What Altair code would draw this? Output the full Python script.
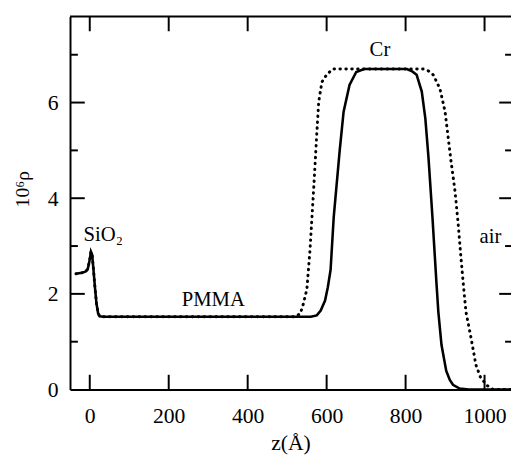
import altair as alt
import pandas as pd

# Solid curve
z_solid = [-35, -20, -10, -5, 0, 3, 6, 9, 13, 17, 21, 25, 35, 200, 400, 560, 575, 585, 596, 603, 610, 618, 633, 643, 658, 675, 695,
           760, 803, 815, 828, 841, 850, 858, 868, 878, 883, 891, 903, 912, 920, 937, 960, 1067]
rho_solid = [2.42, 2.44, 2.47, 2.52, 2.72, 2.88, 2.82, 2.55, 2.15, 1.8, 1.6, 1.53, 1.52, 1.52, 1.52, 1.52, 1.55, 1.65, 1.86, 2.14, 2.5, 3.61, 4.99, 5.81, 6.37, 6.64, 6.70,
             6.70, 6.70, 6.66, 6.58, 6.23, 5.67, 4.85, 3.61, 2.25, 1.62, 0.93, 0.39, 0.2, 0.1, 0.02, 0.0, 0.0]

# Dotted curve
z_dotted = [-35, -20, -10, -5, 0, 3, 6, 9, 13, 17, 21, 25, 35, 200, 400, 515, 533, 541, 550, 558, 568, 575, 580, 588, 600, 615,
            760, 845, 858, 870, 887, 900, 908, 915, 925, 933, 940, 948, 953, 966, 978, 990, 1007, 1022, 1067]
rho_dotted = [2.42, 2.44, 2.47, 2.52, 2.72, 2.88, 2.82, 2.55, 2.15, 1.8, 1.6, 1.53, 1.52, 1.52, 1.52, 1.52, 1.58, 1.79, 2.1, 2.93, 4.31, 5.34, 6.02, 6.43, 6.58, 6.70,
              6.70, 6.70, 6.66, 6.58, 6.29, 5.81, 5.26, 4.78, 4.16, 3.48, 2.78, 2.04, 1.62, 1.07, 0.52, 0.25, 0.08, 0.0, 0.0]

# Annotations
label_text = ["SiO\u2082", "PMMA", "Cr", "air"]
label_z = [34, 313, 735, 1015]
label_rho = [3.11, 1.75, 6.97, 3.07]

x_ticks = [0, 200, 400, 600, 800, 1000]
y_major = [2, 4, 6]
y_minor = [1, 3, 5, 7]

X_MIN, X_MAX = -50, 1067
Y_MIN, Y_MAX = 0, 7.8
W, H = 448, 379
FONT = "Liberation Serif"

xs = alt.Scale(domain=[X_MIN, X_MAX], nice=False, zero=False)
ys = alt.Scale(domain=[Y_MIN, Y_MAX], nice=False, zero=False)

# pixel -> data unit conversion for the inward tick lengths
px_x = (X_MAX - X_MIN) / W
px_y = (Y_MAX - Y_MIN) / H

solid_df = pd.DataFrame({"z": z_solid, "rho": rho_solid})
dotted_df = pd.DataFrame({"z": z_dotted, "rho": rho_dotted})
labels_df = pd.DataFrame({"text": label_text, "z": label_z, "rho": label_rho})

# frame top edge + inward tick segments, built from the tick lists
seg_rows = []
def seg(key, p0, p1):
    seg_rows.append({"id": key, "o": 0, "z": p0[0], "rho": p0[1]})
    seg_rows.append({"id": key, "o": 1, "z": p1[0], "rho": p1[1]})

seg("top", (X_MIN, Y_MAX), (X_MAX, Y_MAX))
for v in x_ticks:
    seg(f"b{v}", (v, Y_MIN), (v, Y_MIN + 15 * px_y))
    seg(f"t{v}", (v, Y_MAX), (v, Y_MAX - 15 * px_y))
for v in y_major:
    seg(f"l{v}", (X_MIN, v), (X_MIN + 15 * px_x, v))
    seg(f"r{v}", (X_MAX - 12 * px_x, v), (X_MAX, v))
for v in y_minor:
    seg(f"l{v}", (X_MIN, v), (X_MIN + 8 * px_x, v))
    seg(f"r{v}", (X_MAX - 6 * px_x, v), (X_MAX, v))
seg_df = pd.DataFrame(seg_rows)

x_axis = alt.Axis(values=x_ticks, format="d", ticks=False, grid=False, domain=True, domainColor="black", domainWidth=2,
                  labelFont=FONT, labelFontSize=22, labelColor="black", labelPadding=17,
                  title="z(Å)", titleFont=FONT, titleFontSize=22, titleFontWeight="normal", titleColor="black",
                  titleY=61, titleBaseline="alphabetic")
y_axis = alt.Axis(values=[0, 2, 4, 6], ticks=False, grid=False, domain=True, domainColor="black", domainWidth=2,
                  labelFont=FONT, labelFontSize=22, labelColor="black", labelPadding=12, labelBaseline="middle",
                  title="10⁶ρ", titleFont=FONT, titleFontSize=20, titleFontWeight="normal", titleColor="black",
                  titleX=-48, titleY=175, titleAlign="center", titleBaseline="middle", titleAngle=-90)

X = lambda: alt.X("z:Q", scale=xs, axis=x_axis, title="z(Å)")
Y = lambda: alt.Y("rho:Q", scale=ys, axis=y_axis, title="10⁶ρ")

frame = alt.Chart(seg_df).mark_line(color="black", strokeWidth=2, strokeCap="butt").encode(
    x=X(), y=Y(), detail="id:N", order="o:Q"
)
dotted = alt.Chart(dotted_df).mark_line(color="black", strokeWidth=3, strokeDash=[0.5, 5.5], strokeCap="round", clip=True).encode(
    x=X(), y=Y(),
)
solid = alt.Chart(solid_df).mark_line(color="black", strokeWidth=2.6, clip=True).encode(
    x=X(), y=Y(),
)
texts = alt.Chart(labels_df).mark_text(font=FONT, fontSize=21, color="black", baseline="alphabetic", align="center").encode(
    x=X(), y=Y(), text="text:N"
)

chart = alt.layer(
    frame, dotted, solid, texts
).properties(
    width=W, height=H,
    autosize=alt.AutoSizeParams(type="none"),
    padding={"left": 63, "top": 5, "right": 0, "bottom": 69},
    background="white",
).configure_view(stroke=None)

chart.save("out.html", embed_options={"renderer": "svg", "actions": False})
